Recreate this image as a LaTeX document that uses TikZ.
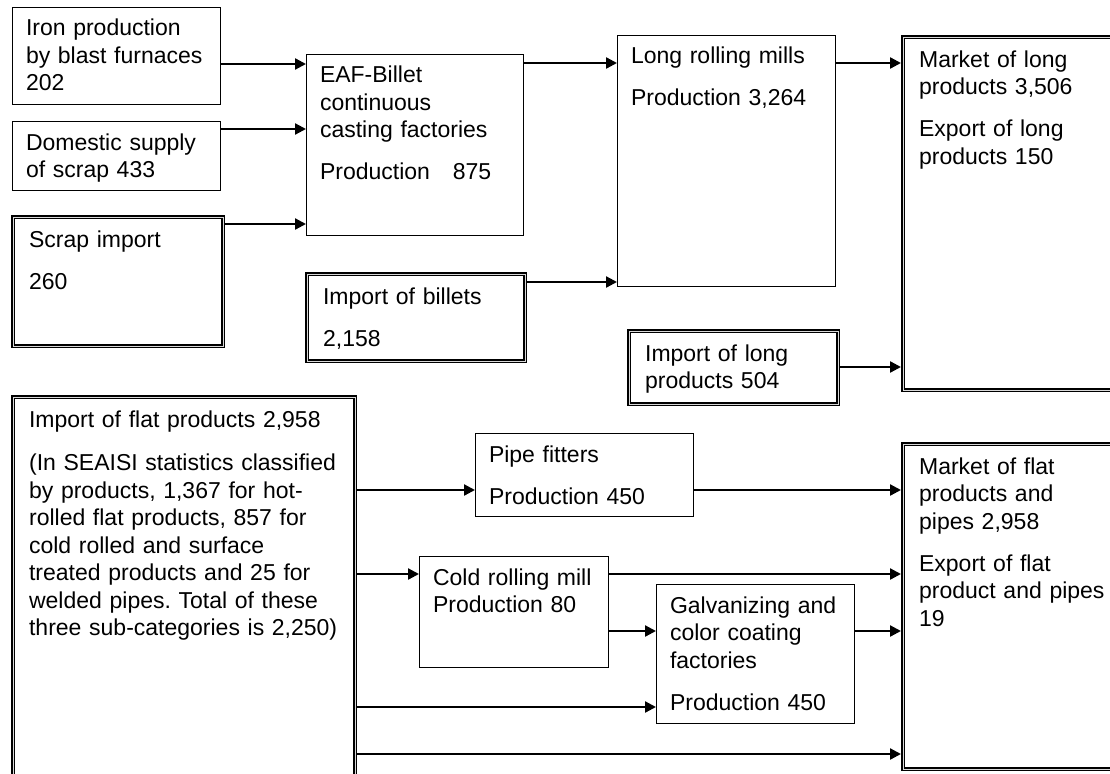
\documentclass[tikz,border=0pt]{standalone}
\usepackage{fontspec}
\setmainfont{Liberation Sans}
\usepackage{tikz}
\usetikzlibrary{arrows.meta}
\frenchspacing

% horizontal flow from one box to the next at a given height
\newcommand{\flowarrow}[3]{\draw[arr] (#1.east |- 0,#3) -- (#2.west |- 0,#3);}

\begin{document}
\begin{tikzpicture}[
  x=1pt, y=-1pt,
  font=\fontsize{23}{27.5}\selectfont,
  box/.style={draw, line width=1pt, anchor=north west, align=left, inner xsep=13.5pt, inner ysep=0pt, text height=28.5pt},
  dbox/.style={box, double=gray!30, line width=1.6pt, double distance=1pt, outer sep=2.1pt, inner xsep=16pt, text height=30pt},
  arr/.style={-{Triangle[length=11pt, width=11pt]}, line width=2.3pt}
]
  \useasboundingbox (0,0) rectangle (1110,773);
  \clip (0,0) rectangle (1110,773);

  % long products
  \node[box, text width=181pt, text depth=68.5pt] (iron) at (12,7) {Iron production\\by blast furnaces\\202};
  \node[box, text width=181pt, text depth=40.5pt] (scrap) at (12,121) {Domestic supply\\of scrap 433};
  \node[dbox, text width=178pt, text depth=99pt] (scrapimp) at (11,215) {Scrap import\\[14.5pt]260};
  \node[box, text width=190pt, text depth=152.5pt] (eaf) at (306,54) {EAF-Billet\\continuous\\casting factories\\[14.5pt]Production~~~875};
  \node[dbox, text width=186pt, text depth=57pt] (billets) at (305,272) {Import of billets\\[14.5pt]2,158};
  \node[box, text width=191pt, text depth=222.5pt] (longmill) at (617,35) {Long rolling mills\\[14.5pt]Production 3,264};
  \node[dbox, text width=177pt, text depth=43pt] (longimp) at (627,329) {Import of long\\products 504};
  \node[dbox, text width=195pt, text depth=323pt] (longmkt) at (901,35) {Market of long\\products 3,506\\[14.5pt]Export of long\\products 150};

  % flat products
  \node[dbox, text width=310pt, text depth=363pt] (flatimp) at (11,395) {Import of flat products 2,958\\[16pt](In SEAISI statistics classified\\by products, 1,367 for hot-\\rolled flat products, 857 for\\cold rolled and surface\\treated products and 25 for\\welded pipes. Total of these\\three sub-categories is 2,250)};
  \node[box, text width=191pt, text depth=54.5pt] (pipe) at (475,433) {Pipe fitters\\[14.5pt]Production 450};
  \node[box, text width=162pt, text depth=82.5pt] (cold) at (419,556) {Cold rolling mill\\Production 80};
  \node[box, text width=171pt, text depth=110.5pt] (galv) at (656,584) {Galvanizing and\\color coating\\factories\\[14.5pt]Production 450};
  \node[dbox, text width=195pt, text depth=295pt] (flatmkt) at (901,442) {Market of flat\\products and\\pipes 2,958\\[14.5pt]Export of flat\\product and pipes\\19};

  \flowarrow{iron}{eaf}{64}
  \flowarrow{scrap}{eaf}{129}
  \flowarrow{scrapimp}{eaf}{224}
  \flowarrow{eaf}{longmill}{63}
  \flowarrow{billets}{longmill}{282}
  \flowarrow{longmill}{longmkt}{63}
  \flowarrow{longimp}{longmkt}{367}

  \flowarrow{flatimp}{pipe}{490}
  \flowarrow{pipe}{flatmkt}{490}
  \flowarrow{flatimp}{cold}{574}
  \flowarrow{cold}{flatmkt}{574}
  \flowarrow{cold}{galv}{631}
  \flowarrow{galv}{flatmkt}{631}
  \flowarrow{flatimp}{galv}{707}
  \flowarrow{flatimp}{flatmkt}{754}
\end{tikzpicture}
\end{document}
